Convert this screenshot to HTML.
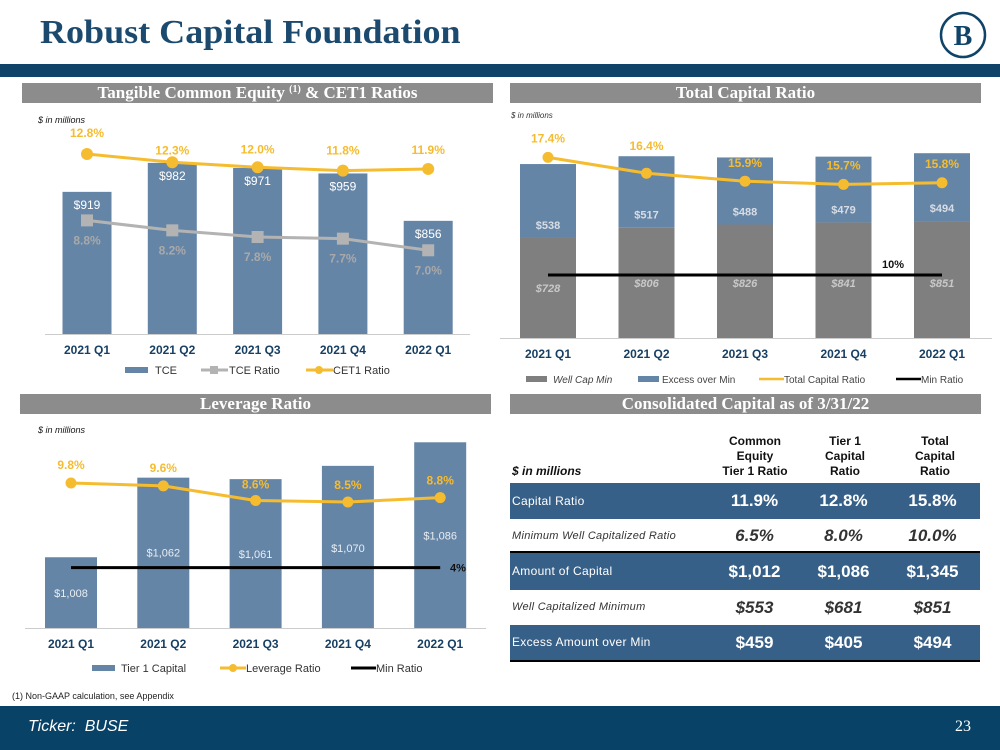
<!DOCTYPE html>
<html><head><meta charset="utf-8">
<style>
body{margin:0;width:1000px;height:750px;position:relative;background:#fff;font-family:"Liberation Sans",sans-serif;overflow:hidden}
.abs{position:absolute}
.banner{position:absolute;height:20px;background:#8c8c8c;color:#fff;font-family:"Liberation Serif",serif;font-weight:bold;font-size:17px;text-align:center;line-height:20px;overflow:hidden}
</style></head><body>
<div class="abs" style="left:40px;top:14px;font-family:'Liberation Serif',serif;font-weight:bold;font-size:34px;color:#1c4a6e;transform:scaleX(1.06);transform-origin:left top">Robust Capital Foundation</div>
<svg class="abs" style="left:938px;top:10px" width="50" height="50"><circle cx="25" cy="25" r="22" fill="none" stroke="#0f4468" stroke-width="2.5"/><text x="25" y="35" text-anchor="middle" font-family="Liberation Serif" font-weight="bold" font-size="28" fill="#0f4468">B</text></svg>
<div class="abs" style="left:0;top:64px;width:1000px;height:13px;background:#0f4468"></div>

<div class="banner" style="left:22px;top:83px;width:471px">Tangible Common Equity <span style="font-size:10px;position:relative;top:-6px">(1)</span> &amp; CET1 Ratios</div>
<div class="banner" style="left:510px;top:83px;width:471px">Total Capital Ratio</div>
<div class="banner" style="left:20px;top:394px;width:471px">Leverage Ratio</div>
<div class="banner" style="left:510px;top:394px;width:471px">Consolidated Capital as of 3/31/22</div>

<svg id="charts" class="abs" style="left:0;top:0" width="1000" height="705"></svg>

<div class="abs" style="left:512px;top:464px;font-size:12px;font-weight:bold;font-style:italic;color:#111">$ in millions</div>
<div class="abs" style="left:705px;top:434px;width:100px;text-align:center;font-size:12px;font-weight:bold;line-height:15px;color:#111">Common<br>Equity<br>Tier 1 Ratio</div>
<div class="abs" style="left:795px;top:434px;width:100px;text-align:center;font-size:12px;font-weight:bold;line-height:15px;color:#111">Tier 1<br>Capital<br>Ratio</div>
<div class="abs" style="left:885px;top:434px;width:100px;text-align:center;font-size:12px;font-weight:bold;line-height:15px;color:#111">Total<br>Capital<br>Ratio</div>
<div id="table" class="abs" style="left:510px;top:483px;width:470px"></div>

<div class="abs" style="left:12px;top:691px;font-size:9px;color:#222">(1) Non-GAAP calculation, see Appendix</div>
<div class="abs" style="left:0;top:706px;width:1000px;height:44px;background:#084266"></div>
<div class="abs" style="left:28px;top:718px;font-size:16px;font-style:italic;color:#fff">Ticker:&nbsp; BUSE</div>
<div class="abs" style="left:955px;top:718px;font-size:16px;font-family:'Liberation Serif',serif;color:#fff">23</div>

<script>
const quarters=["2021 Q1","2021 Q2","2021 Q3","2021 Q4","2022 Q1"];
const tceValues=[919,982,971,959,856];
const tceRatio=[8.8,8.2,7.8,7.7,7.0];
const cet1Ratio=[12.8,12.3,12.0,11.8,11.9];
const wellCapMin=[728,806,826,841,851];
const excessOverMin=[538,517,488,479,494];
const totalCapRatio=[17.4,16.4,15.9,15.7,15.8];
const totalMinRatio=10;
const tier1Capital=[1008,1062,1061,1070,1086];
const leverageRatio=[9.8,9.6,8.6,8.5,8.8];
const leverageMinRatio=4;
const tableRows=["Capital Ratio","Minimum Well Capitalized Ratio","Amount of Capital","Well Capitalized Minimum","Excess Amount over Min"];
const tableCet1=["11.9%","6.5%","$1,012","$553","$459"];
const tableTier1=["12.8%","8.0%","$1,086","$681","$405"];
const tableTotal=["15.8%","10.0%","$1,345","$851","$494"];

const NS="http://www.w3.org/2000/svg";
const svg=document.getElementById('charts');
const BLUE="#6585a7",GOLD="#f6bc2f",GRAY="#7f7f7f",LGRAY="#b3b3b3",NAVY="#173f63";
function el(tag,attrs,parent,txt){const e=document.createElementNS(NS,tag);for(const k in attrs)e.setAttribute(k,attrs[k]);if(txt!==undefined)e.textContent=txt;(parent||svg).appendChild(e);return e;}
function fmt(v){return "$"+v.toLocaleString("en-US");}
function pct(v){return v.toFixed(1)+"%";}

/* ---- Chart 1: TCE ---- */
{
const x=i=>87+i*85.3, base=334, yb=v=>base-(v-610)*0.46, yr=v=>154+(12.8-v)*16.6, bw=49;
let t=el('text',{x:38,y:123,'font-size':9,'font-style':'italic',fill:'#111'},svg,'$ in millions');

tceValues.forEach((v,i)=>{
 let r=el('rect',{x:x(i)-bw/2,y:yb(v),width:bw,height:base-yb(v),fill:BLUE});
 
 let l=el('text',{x:x(i),y:yb(v)+17,'text-anchor':'middle','font-size':12,fill:'#fff'},svg,fmt(v));
 
});
el('line',{x1:45,x2:470,y1:base+0.5,y2:base+0.5,stroke:'#ccc'});
let p=el('polyline',{points:tceRatio.map((v,i)=>x(i)+','+yr(v)).join(' '),fill:'none',stroke:LGRAY,'stroke-width':3});

tceRatio.forEach((v,i)=>{
 let m=el('rect',{x:x(i)-6,y:yr(v)-6,width:12,height:12,fill:LGRAY});
 
 let l=el('text',{x:x(i),y:yr(v)+24,'text-anchor':'middle','font-size':12,'font-weight':'bold',fill:'#a9a9a9'},svg,pct(v));
 
});
let c=el('polyline',{points:cet1Ratio.map((v,i)=>x(i)+','+yr(v)).join(' '),fill:'none',stroke:GOLD,'stroke-width':3});

const off=[-17,-8,-14,-16,-15];
cet1Ratio.forEach((v,i)=>{
 let m=el('circle',{cx:x(i),cy:yr(v),r:6,fill:GOLD});
 
 let l=el('text',{x:x(i),y:yr(v)+off[i],'text-anchor':'middle','font-size':12,'font-weight':'bold',fill:GOLD},svg,pct(v));
 
});
quarters.forEach((q,i)=>{let l=el('text',{x:x(i),y:354,'text-anchor':'middle','font-size':12,'font-weight':'bold',fill:NAVY},svg,q);
 });
let g=el('g',{});
el('rect',{x:125,y:367,width:23,height:6,fill:BLUE},g);el('text',{x:155,y:374,'font-size':11,fill:'#333'},g,'TCE');
el('line',{x1:201,x2:228,y1:370,y2:370,stroke:LGRAY,'stroke-width':3},g);el('rect',{x:210,y:366,width:8,height:8,fill:LGRAY},g);el('text',{x:229,y:374,'font-size':11,fill:'#333'},g,'TCE Ratio');
el('line',{x1:306,x2:333,y1:370,y2:370,stroke:GOLD,'stroke-width':3},g);el('circle',{cx:319,cy:370,r:4,fill:GOLD},g);el('text',{x:333,y:374,'font-size':11,fill:'#333'},g,'CET1 Ratio');
}

/* ---- Chart 2: Total Capital ---- */
{
const x=i=>548+i*98.5, base=338, yb=v=>base-v*0.1374, yr=v=>434-v*15.9, bw=56;
let t=el('text',{x:511,y:118,'font-size':8,'font-style':'italic',fill:'#333'},svg,'$ in millions');

wellCapMin.forEach((v,i)=>{
 let r=el('rect',{x:x(i)-bw/2,y:yb(v),width:bw,height:base-yb(v),fill:GRAY});
 
 let tot=v+excessOverMin[i];
 let r2=el('rect',{x:x(i)-bw/2,y:yb(tot),width:bw,height:yb(v)-yb(tot),fill:BLUE});
 
 let l=el('text',{x:x(i),y:i===0?292:287,'text-anchor':'middle','font-size':11,'font-weight':'bold','font-style':'italic',fill:'#c8c8c8'},svg,fmt(v));
 
 let l2=el('text',{x:x(i),y:yb(v)-9,'text-anchor':'middle','font-size':11,'font-weight':'bold',fill:'#d8dde5'},svg,fmt(excessOverMin[i]));
 
});
el('line',{x1:500,x2:992,y1:base+0.5,y2:base+0.5,stroke:'#ccc'});
let m=el('line',{x1:x(0),x2:x(4),y1:yr(totalMinRatio),y2:yr(totalMinRatio),stroke:'#000','stroke-width':3});

let ml=el('text',{x:893,y:yr(totalMinRatio)-7,'text-anchor':'middle','font-size':11,'font-weight':'bold',fill:'#111'},svg,totalMinRatio+'%');

let p=el('polyline',{points:totalCapRatio.map((v,i)=>x(i)+','+yr(v)).join(' '),fill:'none',stroke:GOLD,'stroke-width':3});

const off=[-15,-23,-14,-15,-15];
totalCapRatio.forEach((v,i)=>{
 let c=el('circle',{cx:x(i),cy:yr(v),r:5.5,fill:GOLD});
 
 let l=el('text',{x:x(i),y:yr(v)+off[i],'text-anchor':'middle','font-size':12,'font-weight':'bold',fill:GOLD},svg,pct(v));
 
});
quarters.forEach((q,i)=>{let l=el('text',{x:x(i),y:358,'text-anchor':'middle','font-size':12,'font-weight':'bold',fill:NAVY},svg,q);
 });
let g=el('g',{});
el('rect',{x:526,y:376,width:21,height:6,fill:GRAY},g);el('text',{x:553,y:383,'font-size':10,'font-style':'italic',fill:'#444'},g,'Well Cap Min');
el('rect',{x:638,y:376,width:21,height:6,fill:BLUE},g);el('text',{x:662,y:383,'font-size':10,fill:'#444'},g,'Excess over Min');
el('line',{x1:759,x2:784,y1:379,y2:379,stroke:GOLD,'stroke-width':2.5},g);el('text',{x:784,y:383,'font-size':10,fill:'#444'},g,'Total Capital Ratio');
el('line',{x1:896,x2:921,y1:379,y2:379,stroke:'#000','stroke-width':2.5},g);el('text',{x:921,y:383,'font-size':10,fill:'#444'},g,'Min Ratio');
}

/* ---- Chart 3: Leverage ---- */
{
const x=i=>71+i*92.3, base=628, yb=v=>base-(v-960)*1.474, yr=v=>483+(9.8-v)*14.6, bw=52;
let t=el('text',{x:38,y:433,'font-size':9,'font-style':'italic',fill:'#111'},svg,'$ in millions');

const lo=[40,79,79,86,97];
tier1Capital.forEach((v,i)=>{
 let r=el('rect',{x:x(i)-bw/2,y:yb(v),width:bw,height:base-yb(v),fill:BLUE});
 
 let l=el('text',{x:x(i),y:yb(v)+lo[i],'text-anchor':'middle','font-size':11,fill:'#e8edf3'},svg,fmt(v));
 
});
el('line',{x1:25,x2:486,y1:base+0.5,y2:base+0.5,stroke:'#ccc'});
let m=el('line',{x1:x(0),x2:x(4),y1:yr(leverageMinRatio),y2:yr(leverageMinRatio),stroke:'#000','stroke-width':3});

let ml=el('text',{x:450,y:yr(leverageMinRatio)+4,'font-size':11,'font-weight':'bold',fill:'#111'},svg,leverageMinRatio+'%');

let p=el('polyline',{points:leverageRatio.map((v,i)=>x(i)+','+yr(v)).join(' '),fill:'none',stroke:GOLD,'stroke-width':3});

const off=[-14,-14,-12,-13,-13];
leverageRatio.forEach((v,i)=>{
 let c=el('circle',{cx:x(i),cy:yr(v),r:5.5,fill:GOLD});
 
 let l=el('text',{x:x(i),y:yr(v)+off[i],'text-anchor':'middle','font-size':12,'font-weight':'bold',fill:GOLD},svg,pct(v));
 
});
quarters.forEach((q,i)=>{let l=el('text',{x:x(i),y:648,'text-anchor':'middle','font-size':12,'font-weight':'bold',fill:NAVY},svg,q);
 });
let g=el('g',{});
el('rect',{x:92,y:665,width:23,height:6,fill:BLUE},g);el('text',{x:121,y:672,'font-size':11,fill:'#333'},g,'Tier 1 Capital');
el('line',{x1:220,x2:246,y1:668,y2:668,stroke:GOLD,'stroke-width':3},g);el('circle',{cx:233,cy:668,r:4,fill:GOLD},g);el('text',{x:246,y:672,'font-size':11,fill:'#333'},g,'Leverage Ratio');
el('line',{x1:351,x2:376,y1:668,y2:668,stroke:'#000','stroke-width':3},g);el('text',{x:376,y:672,'font-size':11,fill:'#333'},g,'Min Ratio');
}

/* ---- Table ---- */
{
const tbl=document.getElementById('table');
const heights=[36,34,37,35,35];
tableRows.forEach((name,i)=>{
 const blue=i%2===0;
 const row=document.createElement('div');
 
 
 row.style.cssText='position:relative;height:'+heights[i]+'px;background:'+(blue?'#376088':'#fff')+';color:'+(blue?'#fff':'#333')+';'+(i===1?'border-bottom:2px solid #000;box-sizing:border-box;':'')+(i===4?'border-bottom:2px solid #000;':'');
 const lab=document.createElement('div');
 
 
 lab.textContent=name;
 lab.style.cssText='position:absolute;left:2px;top:0;line-height:'+heights[i]+'px;font-size:'+(blue?12:11)+'px;'+(blue?'':'font-style:italic;')+'letter-spacing:0.3px';
 row.appendChild(lab);
 [tableCet1[i],tableTier1[i],tableTotal[i]].forEach((v,j)=>{
  const c=document.createElement('div');
  
  
  c.textContent=v;
  c.style.cssText='position:absolute;left:'+(200+j*89)+'px;width:89px;text-align:center;top:0;line-height:'+heights[i]+'px;font-size:17px;font-weight:bold;'+(blue?'':'font-style:italic;color:#333;');
  row.appendChild(c);
 });
 tbl.appendChild(row);
});
}
</script>
</body></html>
